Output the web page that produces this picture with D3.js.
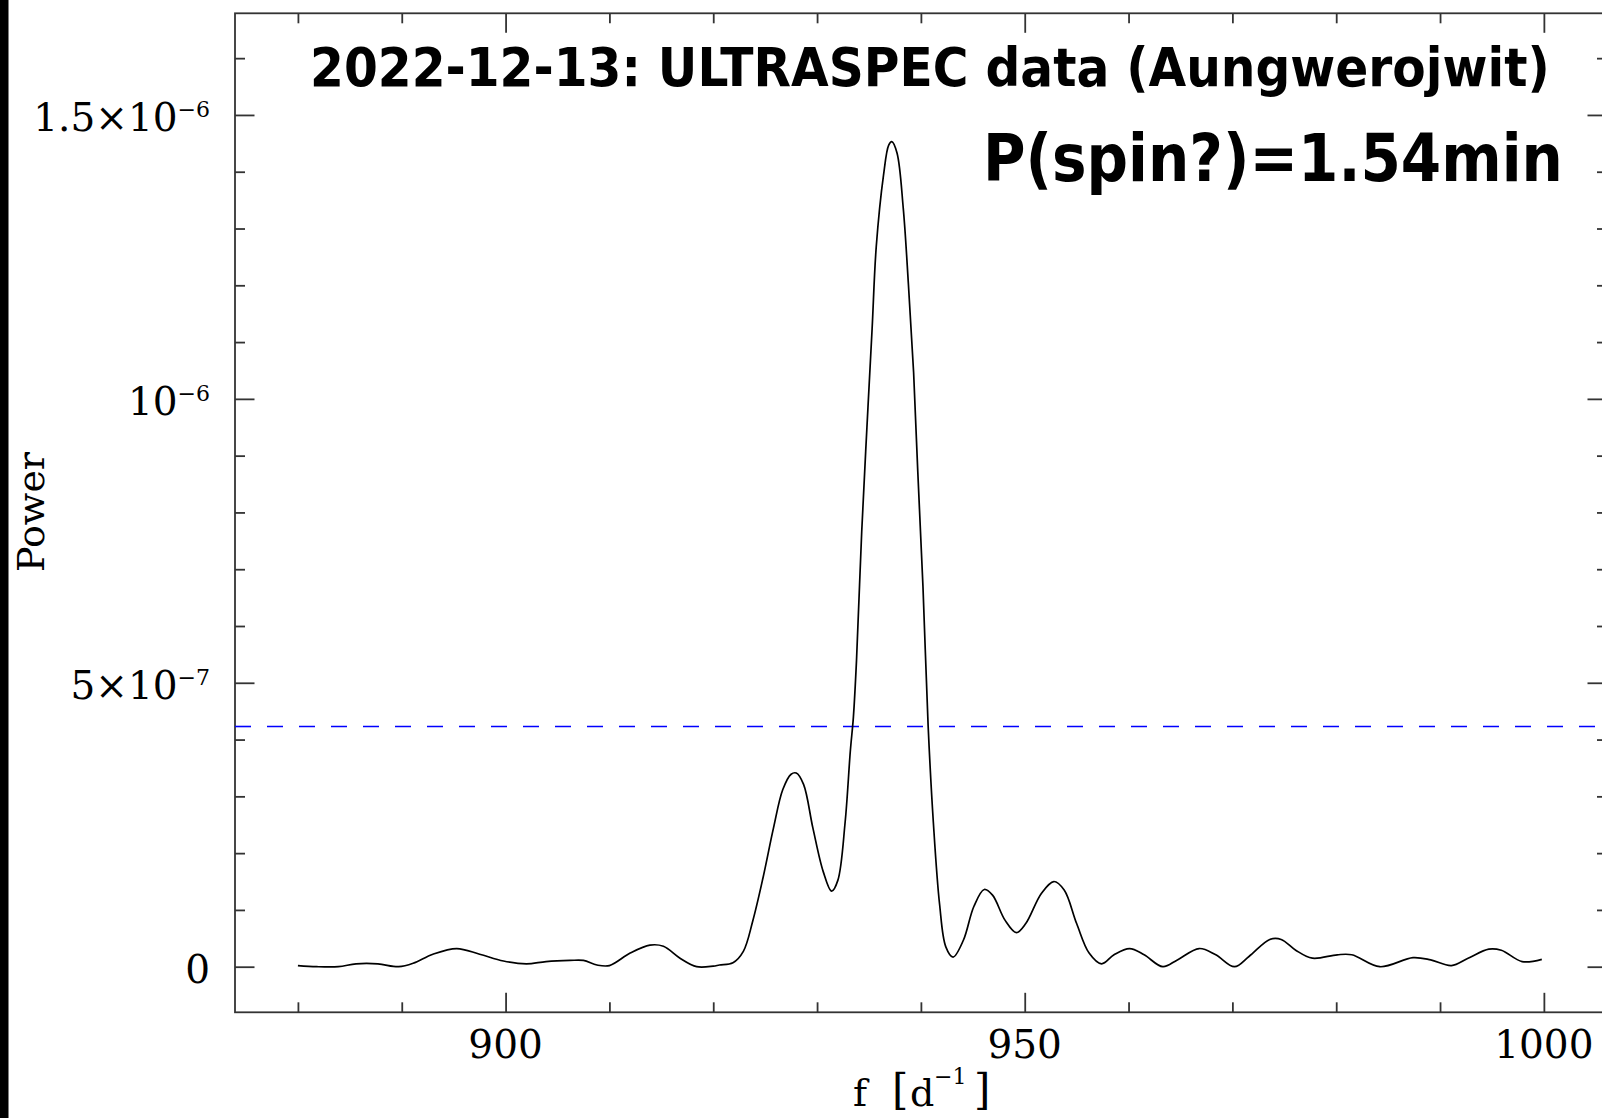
<!DOCTYPE html>
<html><head><meta charset="utf-8">
<script src="https://cdn.jsdelivr.net/npm/d3@7"></script>
<style>html,body{margin:0;padding:0;background:#fff;overflow:hidden}</style>
</head><body>
<svg id="chart" width="1602" height="1118"></svg>
<script>
// ---- data (frequency in d^-1, power in units of 1e-7) ----
const freq = [880.0, 881.8, 883.9, 885.6, 887.7, 889.7, 891.1, 893.0, 895.3, 897.5,
  899.8, 902.0, 903.9, 906.2, 907.5, 908.8, 910.0, 912.0, 913.9, 915.2,
  916.8, 918.4, 920.0, 920.6, 921.9, 922.9, 923.8, 924.8, 925.8, 926.7,
  927.5, 928.0, 928.7, 929.6, 930.6, 931.4, 932.0, 932.7, 933.2, 933.5,
  933.8, 934.3, 934.8, 935.3, 935.7, 936.4, 936.9, 937.2, 937.7, 938.3,
  938.8, 939.3, 939.7, 940.2, 940.7, 941.2, 941.8, 942.4, 943.1, 944.1,
  945.1, 946.1, 946.9, 948.1, 949.2, 950.1, 951.6, 952.8, 953.8, 955.0,
  956.2, 957.4, 958.6, 960.1, 961.5, 963.3, 964.7, 966.8, 968.4, 970.2,
  971.6, 973.6, 974.7, 976.1, 977.7, 980.1, 981.5, 984.2, 987.4, 989.1,
  991.1, 992.7, 994.7, 995.9, 997.9, 999.8];
const powerE7 = [0.02, 0.00, 0.00, 0.05, 0.05, 0.00, 0.06, 0.22, 0.32, 0.22,
  0.10, 0.05, 0.09, 0.11, 0.11, 0.03, 0.02, 0.24, 0.38, 0.36,
  0.15, 0.00, 0.01, 0.03, 0.07, 0.27, 0.80, 1.57, 2.44, 3.12,
  3.39, 3.41, 3.21, 2.44, 1.67, 1.33, 1.52, 2.54, 3.79, 4.40,
  5.40, 7.66, 9.49, 11.23, 12.68, 13.94, 14.47, 14.53, 14.33, 13.36,
  12.01, 10.46, 8.72, 6.69, 4.23, 2.54, 1.10, 0.35, 0.17, 0.47,
  1.06, 1.36, 1.26, 0.82, 0.60, 0.76, 1.29, 1.50, 1.35, 0.76,
  0.24, 0.05, 0.21, 0.32, 0.21, 0.00, 0.12, 0.32, 0.21, 0.00,
  0.18, 0.48, 0.48, 0.29, 0.15, 0.21, 0.21, 0.00, 0.16, 0.12,
  0.02, 0.15, 0.31, 0.29, 0.09, 0.13];
const thresholdE7 = 4.23;

const xMajorTicks = [900, 950, 1000];
const xMinorTicks = [880, 890, 910, 920, 930, 940, 960, 970, 980, 990];
const xTickLabels = ["900", "950", "1000"];
const yMajorTicks = [0, 5, 10, 15];
const yMinorTicks = [1, 2, 3, 4, 6, 7, 8, 9, 11, 12, 13, 14, 16];
const yTickBase = ["0", "5×10", "10", "1.5×10"];
const yTickExp = ["", "−7", "−6", "−6"];
const titleText = "2022-12-13: ULTRASPEC data (Aungwerojwit)";
const periodText = "P(spin?)=1.54min";
const yLabelText = "Power";

// ---- layout ----
const L = 235, T = 13.3, R = 1607, B = 1012.3;
const svg = d3.select("#chart");
svg.append("rect").attr("x", 0).attr("y", 0).attr("width", 1602).attr("height", 1118).attr("fill", "#fff");
svg.append("rect").attr("x", 0).attr("y", 0).attr("width", 8.5).attr("height", 1118).attr("fill", "#000");

const x = d3.scaleLinear().domain([873.94, 1006.08]).range([L, R]);
const y = d3.scaleLinear().domain([-0.803, 16.79]).range([B, T]);

const axisColor = "#333";
function tickGroup(axisFn, scale, values, size, transform) {
  svg.append("g").attr("transform", transform)
    .call(axisFn(scale).tickValues(values).tickSize(size).tickFormat(""))
    .call(g => g.select(".domain").remove())
    .call(g => g.selectAll("text").remove())
    .call(g => g.selectAll("line").attr("stroke", axisColor).attr("stroke-width", 1.8));
}
// bottom & top
tickGroup(d3.axisTop, x, xMajorTicks, 19.5, `translate(0,${B})`);
tickGroup(d3.axisTop, x, xMinorTicks, 10, `translate(0,${B})`);
tickGroup(d3.axisBottom, x, xMajorTicks, 19.5, `translate(0,${T})`);
tickGroup(d3.axisBottom, x, xMinorTicks, 10, `translate(0,${T})`);
// left & right
tickGroup(d3.axisRight, y, yMajorTicks, 19.5, `translate(${L},0)`);
tickGroup(d3.axisRight, y, yMinorTicks, 10, `translate(${L},0)`);
tickGroup(d3.axisLeft, y, yMajorTicks, 19.5, `translate(${R},0)`);
tickGroup(d3.axisLeft, y, yMinorTicks, 10, `translate(${R},0)`);

// frame
svg.append("rect").attr("x", L).attr("y", T).attr("width", R - L).attr("height", B - T)
  .attr("fill", "none").attr("stroke", axisColor).attr("stroke-width", 1.8);

// clip
svg.append("clipPath").attr("id", "clip").append("rect")
  .attr("x", L).attr("y", T).attr("width", R - L).attr("height", B - T);
const plot = svg.append("g").attr("clip-path", "url(#clip)");

// threshold line
plot.append("line").attr("x1", L).attr("x2", R)
  .attr("y1", y(thresholdE7)).attr("y2", y(thresholdE7))
  .attr("stroke", "#0000ff").attr("stroke-width", 1.6).attr("stroke-dasharray", "16 16");

// periodogram
const pts = freq.map((f, i) => [f, powerE7[i]]);
const line = d3.line().x(d => x(d[0])).y(d => y(d[1])).curve(d3.curveCatmullRom.alpha(0.5));
plot.append("path").datum(pts).attr("d", line)
  .attr("fill", "none").attr("stroke", "#000").attr("stroke-width", 1.7).attr("stroke-linejoin", "round");

// tick labels
const serif = "'DejaVu Serif', serif";
svg.append("g").selectAll("text").data(xMajorTicks).join("text")
  .attr("x", d => x(d)).attr("y", 1058)
  .attr("text-anchor", "middle").attr("font-family", serif).attr("font-size", 39).attr("fill", "#000")
  .text((d, i) => xTickLabels[i]);

const yl = svg.append("g").selectAll("text").data(yMajorTicks).join("text")
  .attr("x", 210).attr("y", d => y(d) + 16)
  .attr("text-anchor", "end").attr("font-family", serif).attr("fill", "#000");
yl.append("tspan").attr("font-size", 39).text((d, i) => yTickBase[i]);
yl.filter((d, i) => yTickExp[i] !== "").append("tspan").attr("font-size", 22).attr("dy", -14)
  .text(d => yTickExp[yMajorTicks.indexOf(d)]);

// axis titles
svg.append("text").attr("transform", "translate(44,512) rotate(-90)")
  .attr("text-anchor", "middle").attr("font-family", serif).attr("font-size", 38).attr("fill", "#000")
  .text(yLabelText);

const xl = svg.append("text").attr("font-family", serif).attr("fill", "#000").attr("y", 1106);
xl.append("tspan").attr("x", 853).attr("font-size", 38).text("f");
xl.append("tspan").attr("x", 892).attr("y", 1104).attr("font-size", 42).text("[");
xl.append("tspan").attr("x", 910).attr("y", 1106).attr("font-size", 38).text("d");
xl.append("tspan").attr("x", 934).attr("y", 1084).attr("font-size", 22).text("−1");
xl.append("tspan").attr("x", 974).attr("y", 1104).attr("font-size", 42).text("]");

// annotations (horizontally condensed to match the narrower original face)
const sans = "'DejaVu Sans', Verdana, sans-serif";
function condensedText(str, x0, y0, size, targetWidth) {
  const t = svg.append("text").attr("x", 0).attr("y", 0)
    .attr("font-family", sans).attr("font-weight", "bold").attr("font-size", size)
    .attr("fill", "#000").text(str);
  const w = t.node().getComputedTextLength();
  const k = Math.min(1, targetWidth / w);
  t.attr("transform", `translate(${x0},${y0}) scale(${k},1)`);
}
condensedText(titleText, 310, 86, 54, 1240);
condensedText(periodText, 983, 181, 66, 580);
</script>
</body></html>
